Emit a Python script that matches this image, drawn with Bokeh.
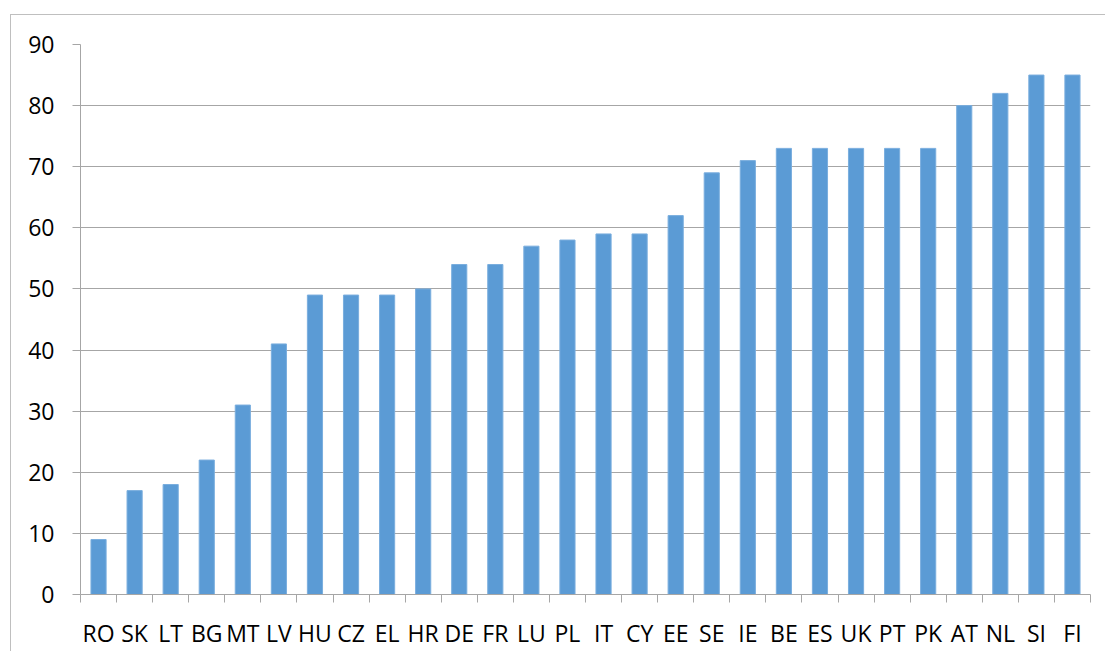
from bokeh.plotting import figure
from bokeh.models import FixedTicker, ColumnDataSource, Range1d
from bokeh.embed import file_html
from bokeh.resources import INLINE

countries = ["RO", "SK", "LT", "BG", "MT", "LV", "HU", "CZ", "EL", "HR", "DE", "FR", "LU", "PL",
             "IT", "CY", "EE", "SE", "IE", "BE", "ES", "UK", "PT", "PK", "AT", "NL", "SI", "FI"]
values = [9, 17, 18, 22, 31, 41, 49, 49, 49, 50, 54, 54, 57, 58,
          59, 59, 62, 69, 71, 73, 73, 73, 73, 73, 80, 82, 85, 85]
y_ticks = [0, 10, 20, 30, 40, 50, 60, 70, 80, 90]

n = len(countries)
idx = list(range(n))
src = ColumnDataSource(dict(x=idx, top=values, name=countries))

GRAY = "#a6a6a6"
FONT = "Open Sans"

p = figure(width=1095, height=637, output_backend="svg", toolbar_location=None,
           x_range=Range1d(-0.5, n - 0.5), y_range=Range1d(0, max(y_ticks)),
           min_border_left=69, min_border_right=16, min_border_top=29, min_border_bottom=58,
           margin=(14, 0, 0, 10),
           styles={"border-left": "1px solid #bfbfbf", "border-top": "1px solid #bfbfbf"})

p.vbar(x="x", top="top", width=0.42, bottom=0, source=src,
       fill_color="#5B9BD5", line_color="#7aaede", line_width=1)

p.outline_line_color = None
p.background_fill_color = "white"
p.border_fill_color = "white"

p.xgrid.visible = False
p.ygrid.grid_line_color = GRAY
p.ygrid.grid_line_width = 1

xa = p.xaxis[0]
xa.ticker = FixedTicker(ticks=idx, minor_ticks=[i - 0.5 for i in range(n + 1)])
xa.major_label_overrides = {i: c for i, c in zip(idx, countries)}
xa.major_tick_line_color = None
xa.minor_tick_line_color = GRAY
xa.minor_tick_in = 0
xa.minor_tick_out = 8
xa.axis_line_color = GRAY
xa.major_label_text_font = FONT
xa.major_label_text_font_size = "23px"
xa.major_label_text_color = "black"
xa.major_label_standoff = 14

ya = p.yaxis[0]
ya.ticker = FixedTicker(ticks=y_ticks, minor_ticks=[])
ya.major_tick_line_color = GRAY
ya.major_tick_in = 0
ya.major_tick_out = 8
ya.minor_tick_line_color = None
ya.axis_line_color = GRAY
ya.major_label_text_font = FONT
ya.major_label_text_font_size = "23px"
ya.major_label_text_color = "black"
ya.major_label_standoff = 18

open("out.html", "w").write(file_html(p, INLINE))
